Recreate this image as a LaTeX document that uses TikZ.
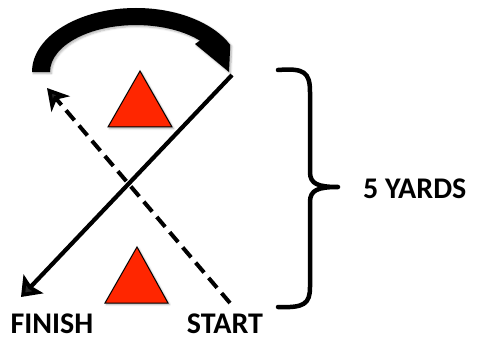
\documentclass[tikz,border=0pt]{standalone}
\usepackage{fontspec}
\setmainfont{Carlito}
\usetikzlibrary{arrows.meta,shadows.blur}
\definecolor{conered}{HTML}{FF2600}
\begin{document}
\begin{tikzpicture}[x=1pt,y=-1pt,
  soft/.style={blur shadow={shadow xshift=1.5pt, shadow yshift=-1.5pt, shadow opacity=30, shadow blur steps=6}},
  cone/.style={fill=conered, draw=black, line width=1pt, line join=miter, soft},
  run/.style={line width=4.2pt, -{Stealth[length=18pt,width=27pt,inset=3pt]}},
  jog/.style={line width=4pt, dash pattern=on 13pt off 7pt,
    -{Stealth[length=21pt,width=24pt,inset=6pt]}},
  brace/.style={line width=4.5pt, line cap=round, line join=round},
  tagtext/.style={font=\fontsize{30}{30}\selectfont\bfseries, inner sep=0pt, anchor=base}]
\useasboundingbox (0,0) rectangle (480,337);

% route points
\coordinate (turn) at (232,75);
\coordinate (finish) at (21,297);
\coordinate (start) at (230,303);
\coordinate (back) at (47,88);

% heavy curved arrow over the top cone
\fill[soft]
  (32,72) arc[start angle=180, end angle=335, x radius=104, y radius=64]
  -- (229,72) -- (195,44) -- (199.9,40.6)
  arc[start angle=318, end angle=180, x radius=86, y radius=47] -- cycle;

% cones
\path[cone] (140,71) -- (172,127) -- (108,127) -- cycle;
\path[cone] (137,247) -- (168,303) -- (105,303) -- cycle;

% runs
\draw[run] (turn) -- (finish);
\draw[jog] (start) -- (back);

% distance brace
\coordinate (btop) at (278,70);
\coordinate (btip) at (338,187);
\coordinate (bbot) at (278,307);
\draw[brace] (btop) .. controls (304,68) and (310,72) .. (310,92)
  -- (310,172) .. controls (310,184) and (318,187) .. (btip)
  .. controls (318,187) and (310,190) .. (310,202)
  -- (310,287) .. controls (310,304) and (304,308) .. (bbot);

% labels
\node[tagtext] (fin) at (52,333.5) {FINISH};
\node[tagtext] (sta) at (225,333.5) {START};
\node[tagtext, anchor=base west] (dist) at (363,198) {5 YARDS};
\end{tikzpicture}
\end{document}
